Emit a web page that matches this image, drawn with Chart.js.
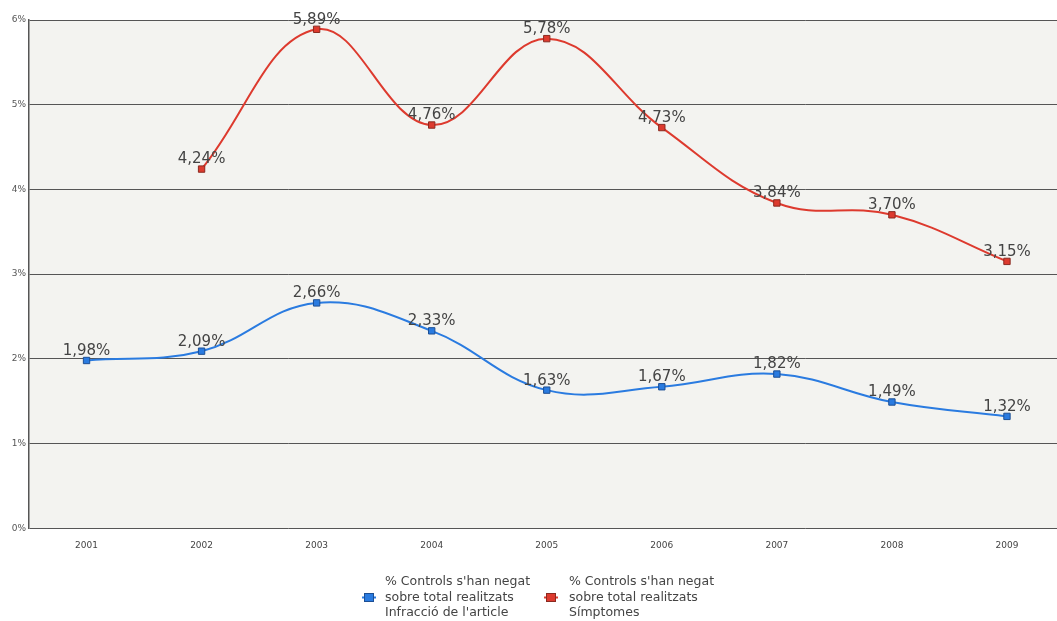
<!DOCTYPE html>
<html>
<head>
<meta charset="utf-8">
<script src="https://cdn.jsdelivr.net/npm/chart.js@4"></script>
<style>
  html, body { margin: 0; padding: 0; background: #fff; overflow: hidden; }
  #wrap { position: relative; width: 1057px; height: 621px; overflow: hidden; }
  #legend { position: absolute; top: 573px; left: 0; width: 1057px; font: 12.5px "DejaVu Sans", Verdana, sans-serif; color: #444; }
  .item { position: absolute; top: 0; line-height: 15.5px; }
  .item canvas { position: absolute; top: 19px; }
  .item span { position: absolute; white-space: nowrap; }
</style>
</head>
<body>
<div id="wrap">
  <canvas id="chart" width="1070" height="621"></canvas>
  <div id="legend"></div>
</div>
<script>
const years = ['2001', '2002', '2003', '2004', '2005', '2006', '2007', '2008', '2009'];
const infraccio = [1.98, 2.09, 2.66, 2.33, 1.63, 1.67, 1.82, 1.49, 1.32];
const simptomes = [null, 4.24, 5.89, 4.76, 5.78, 4.73, 3.84, 3.70, 3.15];
const yTicks = [0, 1, 2, 3, 4, 5, 6];
const legendInfraccio = ["% Controls s'han negat", 'sobre total realitzats', "Infracció de l'article"];
const legendSimptomes = ["% Controls s'han negat", 'sobre total realitzats', 'Símptomes'];

const blue = '#2a7be0';
const red = '#dd3a2e';

function fmt(v) {
  return v.toFixed(2).replace('.', ',') + '%';
}

// little line + square icon for the legend
function legendIcon(color, border) {
  const c = document.createElement('canvas');
  c.width = 14; c.height = 11;
  const g = c.getContext('2d');
  g.strokeStyle = color;
  g.lineWidth = 2;
  g.beginPath(); g.moveTo(0, 5.5); g.lineTo(14, 5.5); g.stroke();
  g.fillStyle = color;
  g.fillRect(2, 1, 10, 9);
  g.strokeStyle = border;
  g.lineWidth = 1;
  g.strokeRect(2.5, 1.5, 9, 8);
  return c;
}

const valueLabels = {
  id: 'valueLabels',
  afterDatasetsDraw(chart) {
    const ctx = chart.ctx;
    ctx.save();
    ctx.font = '15px "DejaVu Sans", Verdana, sans-serif';
    ctx.fillStyle = '#444';
    ctx.textAlign = 'center';
    ctx.textBaseline = 'bottom';
    chart.data.datasets.forEach((ds, i) => {
      chart.getDatasetMeta(i).data.forEach((pt, j) => {
        const v = ds.data[j];
        if (v === null) return;
        ctx.fillText(fmt(v), pt.x, pt.y - 2);
      });
    });
    ctx.restore();
  }
};

const plotBg = {
  id: 'plotBg',
  beforeDraw(chart) {
    const a = chart.chartArea;
    chart.ctx.save();
    chart.ctx.fillStyle = '#f3f3f0';
    chart.ctx.fillRect(a.left, a.top, a.right - a.left, a.bottom - a.top);
    chart.ctx.restore();
  }
};

const chart = new Chart(document.getElementById('chart').getContext('2d'), {
  type: 'line',
  data: {
    labels: years,
    datasets: [{
      label: legendInfraccio,
      data: infraccio,
      borderColor: blue,
      backgroundColor: blue,
      pointBorderColor: '#1d4f94',
      borderWidth: 2,
      pointStyle: 'rect',
      pointRadius: 4.5,
      pointBorderWidth: 1,
      tension: 0.4,
      fill: false
    }, {
      label: legendSimptomes,
      data: simptomes,
      borderColor: red,
      backgroundColor: red,
      pointBorderColor: '#8a2a20',
      borderWidth: 2,
      pointStyle: 'rect',
      pointRadius: 4.5,
      pointBorderWidth: 1,
      tension: 0.4,
      fill: false
    }]
  },
  options: {
    responsive: false,
    animation: false,
    layout: { padding: { top: 20, right: 2, left: 0, bottom: 58 } },
    plugins: {
      tooltip: { enabled: false },
      legend: { display: false }
    },
    scales: {
      x: {
        offset: true,
        grid: { display: false, drawTicks: false },
        border: { display: false },
        ticks: { color: '#444', font: { family: '"DejaVu Sans", Verdana, sans-serif', size: 9 }, padding: 12, maxRotation: 0 }
      },
      y: {
        min: 0,
        max: 6,
        afterBuildTicks(scale) { scale.ticks = yTicks.map(v => ({ value: v })); },
        afterFit(scale) { scale.width = 29; },
        grid: { color: '#555', drawTicks: false, lineWidth: 1 },
        border: { display: true, color: '#555', width: 1.5 },
        ticks: {
          color: '#555',
          padding: 3,
          font: { family: '"DejaVu Sans", Verdana, sans-serif', size: 9 },
          callback: v => v + '%'
        }
      }
    }
  },
  plugins: [plotBg, valueLabels]
});

// legend built from the datasets
const legendEl = document.getElementById('legend');
const legendIconX = [362, 544];
const legendTextX = [385, 569];
chart.data.datasets.forEach((ds, i) => {
  const item = document.createElement('div');
  item.className = 'item';
  const icon = legendIcon(ds.borderColor, ds.pointBorderColor);
  icon.style.left = legendIconX[i] + 'px';
  item.appendChild(icon);
  const span = document.createElement('span');
  span.style.left = legendTextX[i] + 'px';
  span.innerHTML = ds.label.join('<br>');
  item.appendChild(span);
  legendEl.appendChild(item);
});
</script>
</body>
</html>
